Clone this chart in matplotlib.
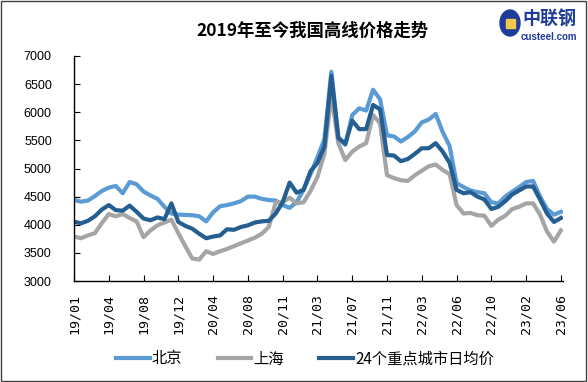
import matplotlib.pyplot as plt
import matplotlib.patches as patches
import numpy as np

# tick labels (one every 5 samples)
tick_labels = ['19/01', '19/04', '19/08', '19/12', '20/04', '20/08', '20/11', '21/03',
               '21/07', '21/11', '22/03', '22/06', '22/10', '23/02', '23/06']

# prices (yuan/t), one sample every 1/5 of a tick interval
beijing = [4440, 4410, 4430, 4510, 4600, 4660, 4690, 4560, 4760, 4720,
           4590, 4520, 4460, 4320, 4200, 4180, 4175, 4170, 4150, 4060,
           4220, 4330, 4350, 4380, 4420, 4500, 4500, 4460, 4440, 4430,
           4350, 4300, 4400, 4620, 4900, 5200, 5520, 6720, 5560, 5420,
           5950, 6070, 6030, 6400, 6230, 5590, 5570, 5480, 5560, 5660,
           5820, 5870, 5970, 5650, 5400, 4740, 4670, 4610, 4580, 4560,
           4400, 4380, 4500, 4590, 4670, 4760, 4780, 4500, 4280, 4180,
           4230]
shanghai = [3790, 3760, 3810, 3850, 4030, 4190, 4150, 4190, 4120, 4060,
            3780, 3900, 3990, 4040, 4090, 3850, 3620, 3400, 3380, 3530,
            3480, 3530, 3570, 3620, 3670, 3720, 3770, 3840, 3960, 4400,
            4400, 4480, 4380, 4400, 4600, 4850, 5260, 6300, 5450, 5150,
            5300, 5390, 5450, 5950, 5800, 4880, 4830, 4790, 4780, 4880,
            4960, 5040, 5070, 4975, 4900, 4350, 4200, 4210, 4170, 4160,
            3980, 4090, 4160, 4280, 4320, 4380, 4380, 4180, 3880, 3700,
            3900]
avg24 = [4055, 4025, 4070, 4150, 4270, 4350, 4260, 4250, 4340, 4230,
         4110, 4080, 4130, 4100, 4380, 4050, 3980, 3930, 3840, 3760,
         3790, 3810, 3920, 3910, 3960, 3990, 4040, 4060, 4070, 4200,
         4400, 4750, 4570, 4620, 4950, 5100, 5390, 6650, 5540, 5440,
         5850, 5700, 5700, 6130, 6050, 5240, 5230, 5130, 5170, 5260,
         5360, 5360, 5450, 5300, 5100, 4620, 4560, 4580, 4500, 4450,
         4280, 4320, 4420, 4540, 4610, 4680, 4680, 4450, 4200, 4050,
         4120]

series_names = ['北京', '上海', '24个重点城市日均价']
series_colors = ['#5B9BD5', '#A5A5A5', '#255E91']

plt.rcParams['font.family'] = ['Liberation Sans', 'Noto Sans CJK SC', 'DejaVu Sans']

fig = plt.figure(figsize=(5.88, 3.82), dpi=100)
ax = fig.add_axes([74 / 588, 1 - 281 / 382, (563 - 74) / 588, (281 - 56) / 382])

x = np.arange(len(beijing))
for vals, name, col in zip([beijing, shanghai, avg24], series_names, series_colors):
    ax.plot(x, vals, color=col, lw=3, label=name, solid_joinstyle='round')

ax.set_xlim(0, 70.3)
ax.set_ylim(3000, 7000)
ax.set_yticks(np.arange(3000, 7001, 500))
ax.set_xticks(np.arange(0, len(beijing), 5))
ax.set_xticklabels(tick_labels, rotation=90, family='DejaVu Sans Mono', fontsize=9.5)
ax.tick_params(axis='y', direction='in', length=4, pad=16, labelsize=9)
ax.tick_params(axis='x', direction='in', length=4, pad=9)
for s in ['top', 'right']:
    ax.spines[s].set_visible(False)
for s in ['left', 'bottom']:
    ax.spines[s].set_color('black')
    ax.spines[s].set_linewidth(1)

# title
fig.text(312 / 588, 1 - 31 / 382, '2019年至今我国高线价格走势', ha='center', va='center',
         fontsize=12.5, fontweight='bold', family=['Noto Sans CJK SC'])

# logo top right
fig.patches.append(patches.Ellipse((510 / 588, 1 - 23 / 382), 20 / 588, 26 / 382,
                                   transform=fig.transFigure, color='#1F3C99'))
fig.patches.append(patches.Rectangle((506 / 588, 1 - 28 / 382), 9 / 588, 9 / 382,
                                     transform=fig.transFigure, color='#F2C94C'))
fig.text(549 / 588, 1 - 19 / 382, '中联钢', ha='center', va='center', fontsize=13,
         fontweight='bold', color='#1F3C99', family=['Noto Sans CJK SC'])
fig.text(549 / 588, 1 - 37 / 382, 'custeel.com', ha='center', va='center', fontsize=7,
         fontweight='bold', color='#1F3C99')

# legend
fig.legend(loc='center', bbox_to_anchor=(305 / 588, 1 - 359 / 382), ncol=3, frameon=False,
           prop={'family': ['Noto Sans CJK SC'], 'size': 11}, handlelength=2.2,
           handletextpad=0.15, columnspacing=2.3)

# outer frame
fig.patches.append(patches.Rectangle((0.002, 0.003), 0.995, 0.994, transform=fig.transFigure,
                                     fill=False, edgecolor='#404040', lw=1))

plt.savefig('out.png', dpi=100)
plt.close()
